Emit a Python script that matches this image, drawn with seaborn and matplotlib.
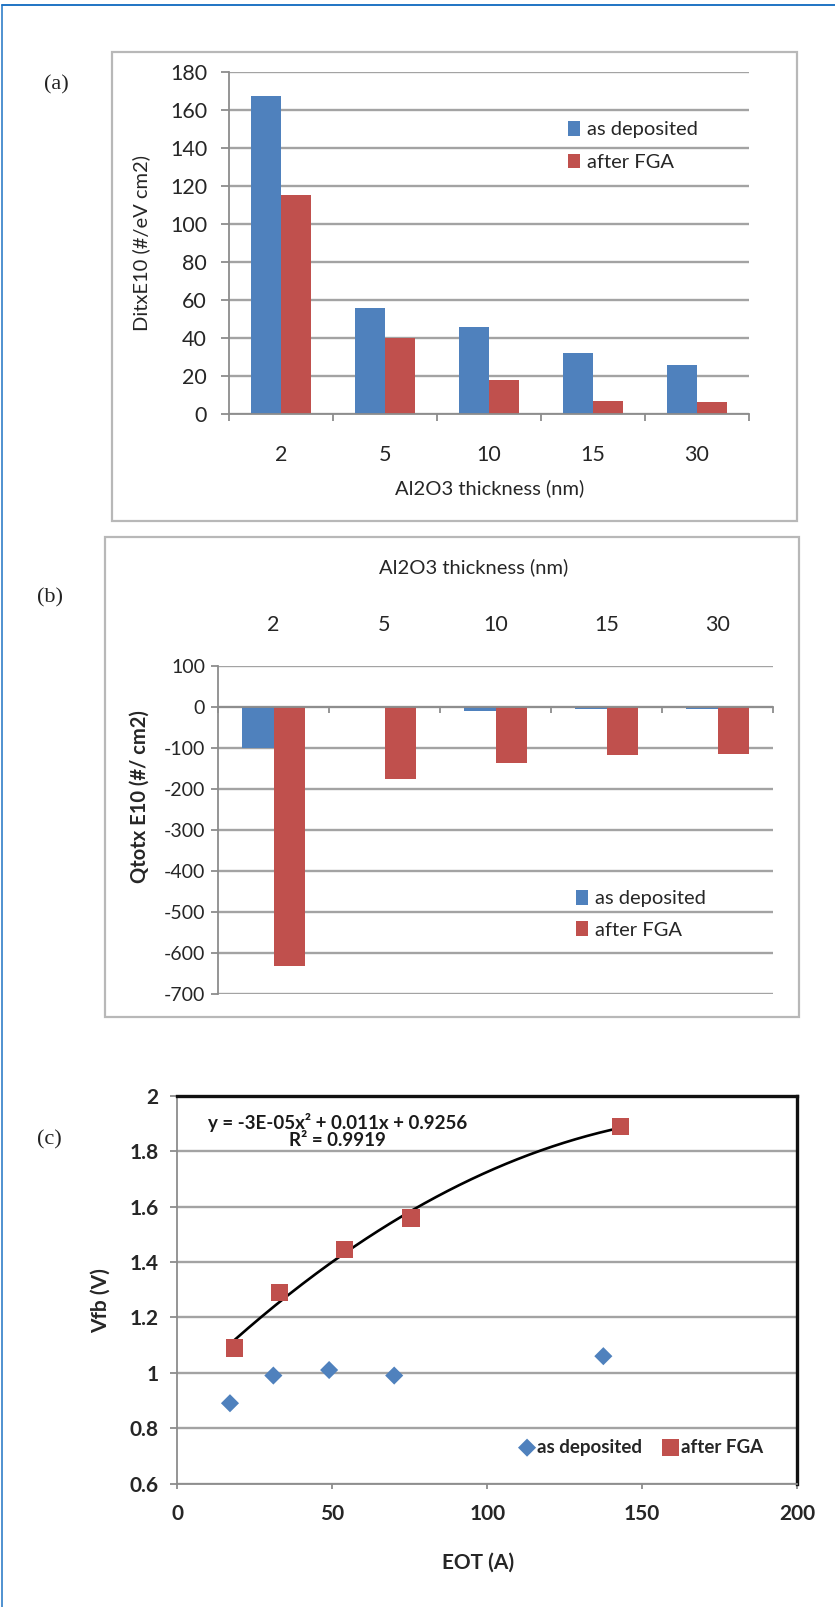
import numpy as np
import pandas as pd
import matplotlib
matplotlib.use("Agg")
import matplotlib.pyplot as plt
from matplotlib.patches import Rectangle
from matplotlib.lines import Line2D
import seaborn as sns

# ---- data -------------------------------------------------------------
thickness = ["2", "5", "10", "15", "30"]
conditions = ["as deposited", "after FGA"]

dit_as_dep = [167, 56, 46, 32, 26]
dit_fga = [115, 40, 18, 7, 6.5]

qtot_as_dep = [-101, -1, -11, -5, -5]
qtot_fga = [-632, -175, -136, -118, -114]

eot_as_dep = [17, 31, 49, 70, 137.5]
vfb_as_dep = [0.89, 0.99, 1.01, 0.99, 1.06]
eot_fga = [18.5, 33, 54, 75.5, 143]
vfb_fga = [1.09, 1.29, 1.445, 1.56, 1.89]

fit_coef = [-3e-05, 0.011, 0.9256]
fit_r2 = 0.9919
fit_label = "y = -3E-05x² + 0.011x + 0.9256\nR² = 0.9919"

dit_ticks = list(range(0, 181, 20))
qtot_ticks = list(range(-700, 101, 100))
vfb_ticks = [0.6, 0.8, 1.0, 1.2, 1.4, 1.6, 1.8, 2.0]
vfb_ticklabels = ["0.6", "0.8", "1", "1.2", "1.4", "1.6", "1.8", "2"]
eot_ticks = [0, 50, 100, 150, 200]

# ---- style ------------------------------------------------------------
BLUE = "#4f81bd"
RED = "#c0504d"
GRID = "#a3a3a3"
AXIS = "#8c8c8c"
TXT = "#262626"

sns.set_theme(style="white")
plt.rcParams["font.family"] = ["Lato", "DejaVu Sans"]
plt.rcParams["axes.unicode_minus"] = False
plt.rcParams["text.color"] = TXT
plt.rcParams["xtick.color"] = AXIS
plt.rcParams["ytick.color"] = AXIS
plt.rcParams["xtick.labelcolor"] = TXT
plt.rcParams["ytick.labelcolor"] = TXT

W, H = 835, 1607
fig = plt.figure(figsize=(W / 100, H / 100), dpi=100)


def fx(px):
    return px / W


def fy(py):
    return 1 - py / H


def axes_from_px(x0, x1, y_top, y_bot):
    return fig.add_axes([fx(x0), fy(y_bot), fx(x1 - x0), (y_bot - y_top) / H])


# outer frame lines (top and left)
fig.add_artist(Line2D([fx(2), 1], [fy(4.5), fy(4.5)], color="#1f74c4", lw=1.4))
fig.add_artist(Line2D([fx(2.3), fx(2.3)], [0, fy(4.5)], color="#1f74c4", lw=1.1))

# chart-area boxes of (a) and (b)
for (x0, x1, yt, yb) in [(112, 797, 52, 521), (105, 799, 537, 1017)]:
    fig.add_artist(Rectangle((fx(x0), fy(yb)), fx(x1 - x0), (yb - yt) / H,
                             fill=False, ec="#b8b8b8", lw=1.6))

# panel letters
for letter, (px, py) in zip(["(a)", "(b)", "(c)"], [(56, 85), (49.5, 598), (49, 1140)]):
    fig.text(fx(px), fy(py), letter, family=["Liberation Serif", "DejaVu Serif"],
             fontsize=16, ha="center", va="center", color="#222222")


def style_common(ax):
    ax.set_axisbelow(True)
    ax.yaxis.grid(True, color=GRID, lw=1.7)
    ax.xaxis.grid(False)
    for s in ["top", "right"]:
        ax.spines[s].set_visible(False)
    for s in ["left", "bottom"]:
        ax.spines[s].set_color(AXIS)
        ax.spines[s].set_linewidth(1.3)


# ---- (a) Dit bars -------------------------------------------------------
ax1 = axes_from_px(229, 749, 71.7, 414.3)
df_a = pd.DataFrame({
    "thickness": thickness * 2,
    "condition": [conditions[0]] * len(thickness) + [conditions[1]] * len(thickness),
    "dit": dit_as_dep + dit_fga,
})
sns.barplot(data=df_a, x="thickness", y="dit", hue="condition", order=thickness,
            hue_order=conditions, palette=[BLUE, RED], saturation=1, width=0.58,
            errorbar=None, linewidth=0, ax=ax1)
style_common(ax1)
ax1.set_ylim(0, 180)
ax1.set_xlim(-0.5, len(thickness) - 0.5)
ax1.set_yticks(dit_ticks)
ax1.set_xticks(np.arange(-0.5, len(thickness)), minor=True)
ax1.tick_params(axis="y", which="major", direction="out", length=5.8, width=1.3,
                pad=10, labelsize=15.5, left=True)
ax1.tick_params(axis="x", which="major", length=0, pad=22, labelsize=15.5)
ax1.tick_params(axis="x", which="minor", direction="out", length=5, width=1.3, bottom=True)
ax1.set_xlabel("Al2O3 thickness (nm)", fontsize=14.5, va="center")
ax1.xaxis.set_label_coords(0.502, -0.215)
ax1.set_ylabel("DitxE10 (#/eV cm2)", fontsize=14.5, va="center")
ax1.yaxis.set_label_coords(-0.169, 0.5)
h, l = ax1.get_legend_handles_labels()
ax1.legend(h, l, loc="center left", bbox_to_anchor=(0.652, 0.783), frameon=False,
           fontsize=14.5, handlelength=0.6, handleheight=0.75, handletextpad=0.35,
           labelspacing=0.75, borderpad=0, borderaxespad=0)

# ---- (b) Qtot bars ------------------------------------------------------
ax2 = axes_from_px(218, 773, 665.7, 994)
df_b = pd.DataFrame({
    "thickness": thickness * 2,
    "condition": [conditions[0]] * len(thickness) + [conditions[1]] * len(thickness),
    "qtot": qtot_as_dep + qtot_fga,
})
sns.barplot(data=df_b, x="thickness", y="qtot", hue="condition", order=thickness,
            hue_order=conditions, palette=[BLUE, RED], saturation=1, width=0.56,
            errorbar=None, linewidth=0, ax=ax2)
style_common(ax2)
ax2.set_ylim(-700, 100)
ax2.set_xlim(-0.5, len(thickness) - 0.5)
ax2.set_yticks(qtot_ticks)
ax2.spines["bottom"].set_position(("data", 0))
ax2.set_xticks(np.arange(-0.5, len(thickness)), minor=True)
ax2.tick_params(axis="y", which="major", direction="out", length=5, width=1.3,
                pad=4.3, labelsize=14, left=True)
ax2.tick_params(axis="x", which="major", length=0, labelbottom=False, labeltop=True,
                top=False, bottom=False, pad=22, labelsize=15.5)
ax2.tick_params(axis="x", which="minor", direction="out", length=4, width=1.3,
                bottom=True, top=False)
ax2.xaxis.set_label_position("top")
ax2.set_xlabel("Al2O3 thickness (nm)", fontsize=14.5, va="center")
ax2.xaxis.set_label_coords(0.461, 1.3006)
ax2.set_ylabel("Qtotx E10 (#/ cm2)", fontsize=14.5, fontweight="bold", va="center")
ax2.yaxis.set_label_coords(-0.1414, 0.600)
h, l = ax2.get_legend_handles_labels()
ax2.legend(h, l, loc="center left", bbox_to_anchor=(0.645, 0.243), frameon=False,
           fontsize=14.5, handlelength=0.6, handleheight=0.75, handletextpad=0.35,
           labelspacing=0.7, borderpad=0, borderaxespad=0)

# ---- (c) Vfb vs EOT -----------------------------------------------------
ax3 = axes_from_px(177.3, 797, 1096, 1483.5)
x_fit = np.linspace(min(eot_fga), max(eot_fga), 200)
y_fit = np.polyval(fit_coef, x_fit)
sns.lineplot(x=x_fit, y=y_fit, color="black", lw=1.9, ax=ax3, zorder=3)
sns.scatterplot(x=eot_as_dep, y=vfb_as_dep, marker="D", s=85, color=BLUE,
                edgecolor="none", label=conditions[0], ax=ax3, zorder=4)
sns.scatterplot(x=eot_fga, y=vfb_fga, marker="s", s=160, color=RED,
                edgecolor="none", label=conditions[1], ax=ax3, zorder=4)
style_common(ax3)
for s in ["top", "right"]:
    ax3.spines[s].set_visible(True)
    ax3.spines[s].set_color("#111111")
    ax3.spines[s].set_linewidth(2.4)
ax3.set_xlim(0, 200)
ax3.set_ylim(0.6, 2.0)
ax3.set_yticks(vfb_ticks)
ax3.set_yticklabels(vfb_ticklabels)
ax3.set_xticks(eot_ticks)
ax3.tick_params(axis="y", direction="out", length=5, width=1.3, pad=8.6,
                labelsize=15, left=True)
ax3.tick_params(axis="x", direction="out", length=3.6, width=1.3, pad=11,
                labelsize=15, bottom=True)
for lab in ax3.get_xticklabels() + ax3.get_yticklabels():
    lab.set_fontweight("bold")
ax3.set_xlabel("EOT (A)", fontsize=15, fontweight="bold", va="center")
ax3.xaxis.set_label_coords(0.485, -0.205)
ax3.set_ylabel("Vfb (V)", fontsize=15, fontweight="bold", va="center")
ax3.yaxis.set_label_coords(-0.123, 0.471)
ax3.text(51.8, 1.875, fit_label, ha="center", va="center", multialignment="center",
         fontsize=13.5, fontweight="bold", color="#1a1a1a", linespacing=1.0)
ax3.legend(loc="center right", bbox_to_anchor=(0.945, 0.094), ncol=2, frameon=False,
           handlelength=0.8, handletextpad=0.15, columnspacing=1.1,
           borderpad=0, borderaxespad=0, prop={"weight": "bold", "size": 13.5})

fig.savefig("out.png", dpi=100, facecolor="white")
